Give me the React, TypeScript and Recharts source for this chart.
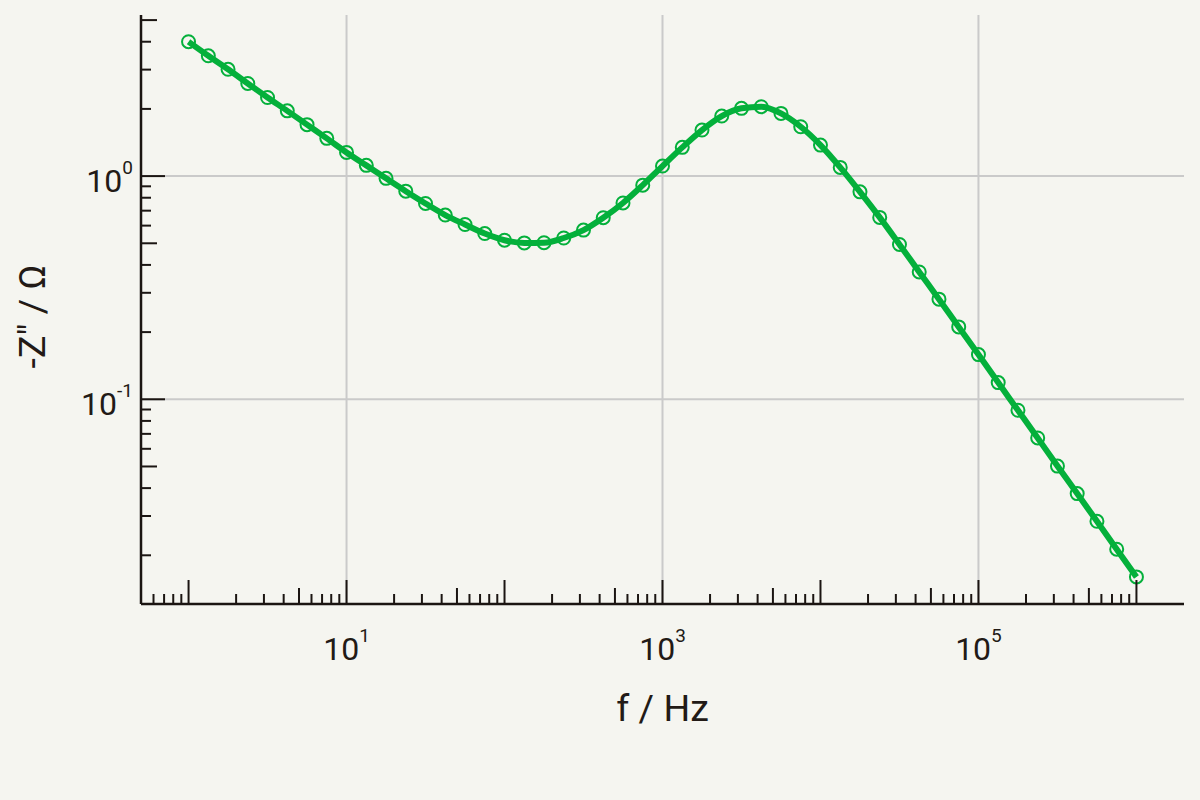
import { LineChart, Line, XAxis, YAxis, ReferenceLine } from 'recharts';

document.body.style.margin = '0';

// 8 points per decade, 1 Hz .. 1 MHz
const FREQ = [
  1, 1.334, 1.778, 2.371, 3.162, 4.217, 5.623, 7.499,
  10, 13.34, 17.78, 23.71, 31.62, 42.17, 56.23, 74.99,
  100, 133.4, 177.8, 237.1, 316.2, 421.7, 562.3, 749.9,
  1000, 1334, 1778, 2371, 3162, 4217, 5623, 7499,
  10000, 13335, 17783, 23714, 31623, 42170, 56234, 74989,
  100000, 133352, 177828, 237137, 316228, 421697, 562341, 749894,
  1000000,
];

const Z_IMAG = [
  4.0, 3.46, 3.01, 2.6, 2.25, 1.96, 1.7, 1.476,
  1.277, 1.117, 0.977, 0.856, 0.754, 0.669, 0.607, 0.553,
  0.516, 0.502, 0.503, 0.528, 0.573, 0.651, 0.758, 0.911,
  1.109, 1.345, 1.608, 1.858, 2.012, 2.046, 1.91, 1.664,
  1.377, 1.094, 0.85, 0.653, 0.494, 0.372, 0.281, 0.211,
  0.1586, 0.1188, 0.0893, 0.0671, 0.0502, 0.0378, 0.0284, 0.0213,
  0.016,
];

const X_DOMAIN = [0.5, 2e6];
const Y_DOMAIN = [0.0121, 5.27];

const MANTISSAS = [1, 2, 3, 4, 5, 6, 7, 8, 9];
const X_TICKS = [0.6, 0.7, 0.8, 0.9]
  .concat([0, 1, 2, 3, 4, 5].flatMap((e) => MANTISSAS.map((m) => m * 10 ** e)))
  .concat([1e6]);
const Y_TICKS = [-2, -1, 0]
  .flatMap((e) => MANTISSAS.map((m) => +(m * 10 ** e).toPrecision(3)))
  .filter((v) => v >= 0.02 && v <= 5);

const X_LABELED = [10, 1000, 100000];
const Y_LABELED = [1, 0.1];

const data = FREQ.map((f, i) => ({ f, z: Z_IMAG[i] }));

const GREEN = '#04b03b';
const INK = '#221a16';
const AXIS = '#1b1512';
const GRID = '#cacaca';
const FONT = 'Roboto, "Noto Sans", sans-serif';

const tickLen = (v: number) => {
  const e = Math.floor(Math.log10(v) + 1e-9);
  const m = Math.round(v / 10 ** e);
  if (m === 1) return 24;
  if (m === 5) return 16;
  return 10;
};

const isLabeled = (list: number[], v: number) =>
  list.some((t) => Math.abs(t - v) < t * 1e-6);

const XTick = (props: any) => {
  const { x, y, payload } = props;
  const v = payload.value;
  const exp = Math.round(Math.log10(v));
  return (
    <g>
      <line x1={x} x2={x} y1={y} y2={y - tickLen(v)} stroke={AXIS} strokeWidth={2} />
      {isLabeled(X_LABELED, v) && (
        <text x={x} y={y + 56} textAnchor="middle" fill={INK} fontFamily={FONT} fontSize={32}>
          10
          <tspan dy={-18} fontSize={19}>{exp}</tspan>
        </text>
      )}
    </g>
  );
};

const YTick = (props: any) => {
  const { x, y, payload } = props;
  const v = payload.value;
  const exp = Math.round(Math.log10(v));
  return (
    <g>
      <line x1={x} x2={x + tickLen(v)} y1={y} y2={y} stroke={AXIS} strokeWidth={2} />
      {isLabeled(Y_LABELED, v) && (
        <text x={x - 8} y={y + 16} textAnchor="end" fill={INK} fontFamily={FONT} fontSize={32}>
          10
          <tspan dy={-18} fontSize={19}>{exp}</tspan>
        </text>
      )}
    </g>
  );
};

const XTitle = (props: any) => {
  const { viewBox } = props;
  return (
    <text
      x={viewBox.x + viewBox.width / 2}
      y={viewBox.y + 117}
      textAnchor="middle"
      fill={INK}
      fontFamily={FONT}
      fontSize={37.5}
    >
      f / Hz
    </text>
  );
};

const YTitle = (props: any) => {
  const { viewBox } = props;
  const cx = viewBox.x + viewBox.width - 96;
  const cy = viewBox.y + viewBox.height / 2 + 7;
  return (
    <text
      x={cx}
      y={cy}
      transform={`rotate(-90, ${cx}, ${cy})`}
      textAnchor="middle"
      fill={INK}
      fontFamily={FONT}
      fontSize={37.5}
    >
      -Z" / Ω
    </text>
  );
};

export default function App() {
  return (
    <div style={{ width: 1200, height: 800, background: '#f5f5f0' }}>
      <LineChart
        width={1200}
        height={800}
        data={data}
        margin={{ top: 15, right: 16, bottom: 96, left: 41 }}
      >
        <XAxis
          dataKey="f"
          type="number"
          scale="log"
          domain={X_DOMAIN}
          allowDataOverflow
          ticks={X_TICKS}
          interval={0}
          tickSize={0}
          tickMargin={0}
          tickLine={false}
          tick={<XTick />}
          axisLine={{ stroke: AXIS, strokeWidth: 2.5 }}
          height={100}
          label={<XTitle />}
        />
        <YAxis
          dataKey="z"
          type="number"
          scale="log"
          domain={Y_DOMAIN}
          allowDataOverflow
          ticks={Y_TICKS}
          interval={0}
          tickSize={0}
          tickMargin={0}
          tickLine={false}
          tick={<YTick />}
          axisLine={{ stroke: AXIS, strokeWidth: 2.5 }}
          width={100}
          label={<YTitle />}
        />
        {X_LABELED.map((v) => (
          <ReferenceLine key={`gx${v}`} x={v} stroke={GRID} strokeWidth={2} />
        ))}
        {Y_LABELED.map((v) => (
          <ReferenceLine key={`gy${v}`} y={v} stroke={GRID} strokeWidth={2} />
        ))}
        <Line
          type="monotone"
          dataKey="z"
          stroke={GREEN}
          strokeWidth={6}
          dot={{ r: 6.5, fill: 'none', stroke: GREEN, strokeWidth: 2 }}
          activeDot={false}
          isAnimationActive={false}
        />
      </LineChart>
    </div>
  );
}
